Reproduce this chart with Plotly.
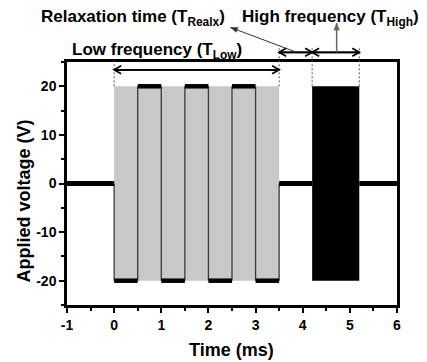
import math
import plotly.graph_objects as go

# ---------------- data ----------------
x_range = [-1, 6]
y_range = [-25, 25]
x_tick_vals = [-1, 0, 1, 2, 3, 4, 5, 6]
x_tick_text = ["-1", "0", "1", "2", "3", "4", "5", "6"]
y_tick_vals = [-20, -10, 0, 10, 20]
y_tick_text = ["-20", "-10", "0", "10", "20"]

# low-frequency square wave: switching times (ms) and level (V) of each half period
low_switch_t = [0, 0.5, 1.0, 1.5, 2.0, 2.5, 3.0, 3.5]
low_levels = [-20, 20, -20, 20, -20, 20, -20]
amplitude = 20
rest_level = 0

# time segments (ms)
t_start = -1
low_start = 0
low_end = 3.5
high_start = 4.2
high_end = 5.2
t_end = 6

# ---------------- geometry helpers ----------------
W, H = 427, 362
M_L, M_R, M_T, M_B = 67, 30, 62, 57
plot_w = W - M_L - M_R
plot_h = H - M_T - M_B
px_per_ms = plot_w / (x_range[1] - x_range[0])
px_per_v = plot_h / (y_range[1] - y_range[0])


def py(v):
    return (v - y_range[0]) / (y_range[1] - y_range[0])


def px(v):
    return (v - x_range[0]) / (x_range[1] - x_range[0])


# ---------------- figure ----------------
fig = go.Figure()

# grey envelope of the low-frequency burst
fig.add_trace(go.Scatter(
    x=[low_start, low_start, low_end, low_end, low_start],
    y=[-amplitude, amplitude, amplitude, -amplitude, -amplitude],
    fill="toself", fillcolor="#c8c8c8", line=dict(width=0),
    mode="lines", hoverinfo="skip", showlegend=False))

# black block of the high-frequency burst
fig.add_trace(go.Scatter(
    x=[high_start, high_start, high_end, high_end, high_start],
    y=[-amplitude, amplitude, amplitude, -amplitude, -amplitude],
    fill="toself", fillcolor="#000000", line=dict(width=0, color="#000"),
    mode="lines", hoverinfo="skip", showlegend=False))

# vertical transitions of the square wave
vx, vy = [], []
levels_ext = [rest_level] + low_levels + [rest_level]
for i, t in enumerate(low_switch_t):
    vx += [t, t, None]
    vy += [levels_ext[i], levels_ext[i + 1], None]
fig.add_trace(go.Scatter(x=vx, y=vy, mode="lines",
                         line=dict(color="#3a3a3a", width=1.3),
                         hoverinfo="skip", showlegend=False))

# horizontal plateaus of the square wave
hx, hy = [], []
for i, lv in enumerate(low_levels):
    hx += [low_switch_t[i], low_switch_t[i + 1], None]
    hy += [lv, lv, None]
fig.add_trace(go.Scatter(x=hx, y=hy, mode="lines",
                         line=dict(color="#000000", width=4.5),
                         hoverinfo="skip", showlegend=False))

# rest (0 V) segments
rx = [t_start, low_start, None, low_end, high_start, None, high_end, t_end]
ry = [rest_level, rest_level, None, rest_level, rest_level, None, rest_level, rest_level]
fig.add_trace(go.Scatter(x=rx, y=ry, mode="lines",
                         line=dict(color="#000000", width=5),
                         hoverinfo="skip", showlegend=False))

# dashed guide lines
for xv, ytop in [(low_start, 25.6), (low_end, 28.2), (high_start, 28.2), (high_end, 28.2)]:
    fig.add_shape(type="line", xref="x", yref="paper", x0=xv, x1=xv,
                  y0=py(amplitude), y1=py(ytop),
                  line=dict(color="#555555", width=1, dash="2px,2px"))


def add_arrow(x0, y0, x1, y1, color, width, head_len, head_half, style):
    """Line from (x0,y0) to (x1,y1) in data units, head at (x1,y1)."""
    fig.add_shape(type="line", xref="x", yref="paper", x0=x0, x1=x1,
                  y0=py(y0), y1=py(y1), line=dict(color=color, width=width))
    dxp = (x1 - x0) * px_per_ms
    dyp = (y1 - y0) * px_per_v
    n = math.hypot(dxp, dyp)
    ux, uy = dxp / n, dyp / n
    bx, by = -ux * head_len, -uy * head_len
    p1 = (x1 + (bx - uy * head_half) / px_per_ms, py(y1 + (by + ux * head_half) / px_per_v))
    p2 = (x1 + (bx + uy * head_half) / px_per_ms, py(y1 + (by - ux * head_half) / px_per_v))
    tip = (x1, py(y1))
    if style == "open":
        path = f"M{p1[0]},{p1[1]} L{tip[0]},{tip[1]} L{p2[0]},{p2[1]}"
        fig.add_shape(type="path", xref="x", yref="paper", path=path,
                      line=dict(color=color, width=width))
    else:
        path = f"M{p1[0]},{p1[1]} L{tip[0]},{tip[1]} L{p2[0]},{p2[1]} Z"
        fig.add_shape(type="path", xref="x", yref="paper", path=path,
                      line=dict(color=color, width=0.5), fillcolor=color)


# double-headed span arrows
for x0, x1, yv in [(low_start, low_end, 23.4), (low_end, high_start, 27.0), (high_start, high_end, 27.0)]:
    add_arrow(x0, yv, x1, yv, "#000000", 1.8, 7, 4, "open")
    add_arrow(x1, yv, x0, yv, "#000000", 1.8, 7, 4, "open")

# pointer arrows to the labels
add_arrow(4.72, 27.0, 4.72, 33.0, "#666666", 1.5, 7, 2.8, "filled")
add_arrow(3.87, 27.0, 2.47, 32.1, "#333333", 1.0, 7, 2.5, "filled")

font_family = "Liberation Sans, Arial, sans-serif"
ann = []

# labels
lab_font = dict(family=font_family, size=17, color="#000000", weight="bold")
ann.append(dict(x=px(-1.6), y=py(34.0), xref="paper", yref="paper", xanchor="left", yanchor="middle",
                text="Relaxation time (T<sub>Realx</sub>)", showarrow=False, font=lab_font))
ann.append(dict(x=px(2.68), y=py(34.0), xref="paper", yref="paper", xanchor="left", yanchor="middle",
                text="High frequency (T<sub>High</sub>)", showarrow=False, font=lab_font))
ann.append(dict(x=px(-0.936), y=py(27.2), xref="paper", yref="paper", xanchor="left", yanchor="middle",
                text="Low frequency (T<sub>Low</sub>)", showarrow=False, font=lab_font))

# axis titles
title_font = dict(family=font_family, size=18, color="#000000", weight="bold")
ann.append(dict(x=-0.13, y=py(-3.7), xref="paper", yref="paper", xanchor="center", yanchor="middle",
                text="Applied voltage (V)", textangle=-90, showarrow=False, font=title_font))
ann.append(dict(x=px(2.49), y=py(-34.2), xref="paper", yref="paper", xanchor="center", yanchor="middle",
                text="Time (ms)", showarrow=False, font=title_font))

tick_font = dict(family=font_family, size=14, color="#000000", weight="bold")

fig.update_layout(
    width=W, height=H,
    margin=dict(l=M_L, r=M_R, t=M_T, b=M_B, pad=0),
    paper_bgcolor="white", plot_bgcolor="white",
    annotations=ann,
    xaxis=dict(range=x_range, tickmode="array", tickvals=x_tick_vals, ticktext=x_tick_text,
               showgrid=False, zeroline=False, showline=True, linecolor="#000", linewidth=2.5,
               mirror=True, ticks="outside", ticklen=5, tickwidth=2, tickcolor="#000",
               tickfont=tick_font, automargin=False,
               minor=dict(tickmode="linear", tick0=-1, dtick=0.5, ticks="outside",
                          ticklen=3, tickwidth=1.5, tickcolor="#000", showgrid=False)),
    yaxis=dict(range=y_range, tickmode="array", tickvals=y_tick_vals, ticktext=y_tick_text,
               showgrid=False, zeroline=False, showline=True, linecolor="#000", linewidth=2.5,
               mirror=True, ticks="outside", ticklen=5, tickwidth=2, tickcolor="#000",
               tickfont=tick_font, automargin=False,
               minor=dict(tickmode="linear", tick0=-25, dtick=5, ticks="outside",
                          ticklen=3, tickwidth=1.5, tickcolor="#000", showgrid=False)),
)

fig.write_html("out.html")
